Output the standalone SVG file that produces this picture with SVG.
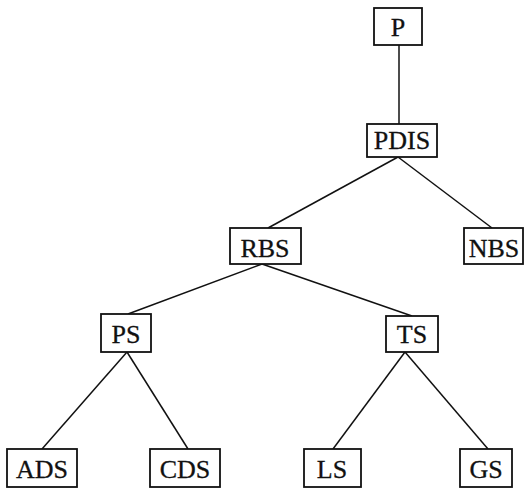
<svg xmlns="http://www.w3.org/2000/svg" width="526" height="489" viewBox="0 0 526 489">
<style>
.box{fill:#fff;stroke:#111;stroke-width:1.8}
.lbl{font-family:"Liberation Serif",serif;font-size:26px;fill:#111;stroke:#111;stroke-width:0.3;text-anchor:middle}
.edge{stroke:#111;stroke-width:1.5;fill:none}
</style>
<rect width="526" height="489" fill="#fff"/>
<g id="connectors">
<line class="edge" x1="399" y1="45" x2="399" y2="124"/>
<line class="edge" x1="398" y1="157" x2="268" y2="228"/>
<line class="edge" x1="398" y1="157" x2="492" y2="228"/>
<line class="edge" x1="262" y1="264" x2="128" y2="314"/>
<line class="edge" x1="262" y1="264" x2="412" y2="316"/>
<line class="edge" x1="127" y1="352" x2="42" y2="449"/>
<line class="edge" x1="127" y1="352" x2="188" y2="449"/>
<line class="edge" x1="405" y1="352" x2="333" y2="449"/>
<line class="edge" x1="405" y1="352" x2="488" y2="449"/>
</g>
<g id="P"><rect class="box" x="374" y="8" width="48" height="37"/><text class="lbl" x="398" y="36">P</text></g>
<g id="PDIS"><rect class="box" x="367" y="124" width="70" height="33"/><text class="lbl" x="402" y="149">PDIS</text></g>
<g id="RBS"><rect class="box" x="230" y="228" width="71" height="36"/><text class="lbl" x="265" y="257">RBS</text></g>
<g id="NBS"><rect class="box" x="464" y="228" width="59" height="36"/><text class="lbl" x="494" y="257">NBS</text></g>
<g id="PS"><rect class="box" x="101" y="314" width="50" height="38"/><text class="lbl" x="126" y="343">PS</text></g>
<g id="TS"><rect class="box" x="386" y="316" width="52" height="36"/><text class="lbl" x="412" y="343">TS</text></g>
<g id="ADS"><rect class="box" x="7" y="449" width="70" height="38"/><text class="lbl" x="42" y="478">ADS</text></g>
<g id="CDS"><rect class="box" x="150" y="449" width="70" height="38"/><text class="lbl" x="185" y="478">CDS</text></g>
<g id="LS"><rect class="box" x="304" y="449" width="57" height="38"/><text class="lbl" x="332" y="478">LS</text></g>
<g id="GS"><rect class="box" x="460" y="449" width="52" height="38"/><text class="lbl" x="486" y="478">GS</text></g>
</svg>
